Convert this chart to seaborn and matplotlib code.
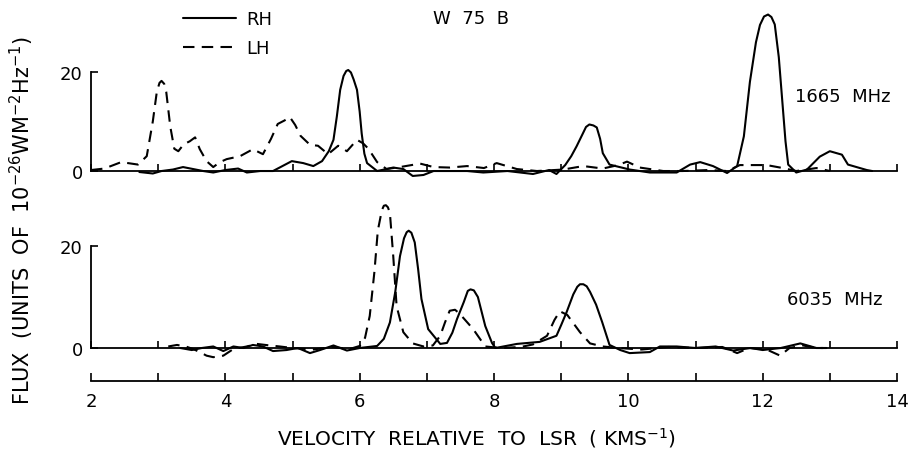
import numpy as np
import pandas as pd
import matplotlib
matplotlib.use("Agg")
import matplotlib.pyplot as plt
import seaborn as sns

# ---- data (velocity km/s, flux 1e-26 W m^-2 Hz^-1) ----
top_lh_v = [2.0, 2.2, 2.45, 2.7, 2.83, 2.92, 2.98, 3.02, 3.05, 3.09, 3.12, 3.18, 3.24, 3.3, 3.38, 3.47,
            3.55, 3.62, 3.72, 3.82, 3.92, 4.02, 4.22, 4.41, 4.56, 4.68, 4.78, 4.88, 4.96, 5.04, 5.12, 5.26,
            5.38, 5.53, 5.68, 5.81, 5.96, 6.05, 6.13, 6.26, 6.4, 6.6, 6.9, 7.1, 7.34, 7.6, 7.85, 8.04,
            8.34, 8.64, 9.03, 9.33, 9.62, 9.85, 9.98, 10.17, 10.52, 10.81, 11.2, 11.47, 11.66, 12.06, 12.3,
            12.5, 12.8, 13.0]
top_lh_f = [0.2, 0.5, 1.8, 1.3, 3, 10, 16, 17.8, 18.2, 17.6, 16, 9, 4.5, 4, 5.4, 6,
            6.8, 4.4, 2, 0.8, 1.8, 2.4, 3, 4.4, 3.4, 6.5, 9.5, 10.2, 10.9, 9.3, 7.1, 5.3,
            5.1, 3.4, 5.1, 4, 6.3, 5.6, 4.5, 1.8, 0.4, 0.8, 1.5, 0.8, 0.7, 1, 0.6, 1.6,
            0.4, 0, 0.3, 1, 0.5, 1.2, 1.9, 0.7, 0, 0, 0.2, 0, 1.2, 1.2, 0.6,
            0, 0.6, 0]

top_rh_v = [2.72, 2.92, 3.05, 3.22, 3.37, 3.52, 3.67, 3.82, 4.0, 4.19, 4.32, 4.52, 4.71, 4.85, 4.99, 5.16,
            5.31, 5.44, 5.54, 5.61, 5.66, 5.71, 5.76, 5.8, 5.83, 5.87, 5.91, 5.96, 6.0, 6.03, 6.07, 6.11,
            6.26, 6.5, 6.65, 6.79, 6.95, 7.1, 7.34, 7.6, 7.84, 8.2, 8.58, 8.82, 8.93, 9.06, 9.15, 9.23,
            9.32, 9.37, 9.42, 9.48, 9.53, 9.58, 9.62, 9.72, 10.02, 10.32, 10.72, 10.92, 11.07, 11.26, 11.47,
            11.62, 11.72, 11.81, 11.9, 11.96, 12.02, 12.08, 12.13, 12.18, 12.24, 12.29, 12.34, 12.38, 12.5,
            12.66, 12.85, 13.0, 13.18, 13.27, 13.55, 13.63]
top_rh_f = [-0.2, -0.5, 0, 0.3, 0.8, 0.4, 0, -0.3, 0.2, 0.5, -0.3, 0, 0, 1, 2, 1.6,
            1, 2, 4, 6.3, 11, 16.4, 19.2, 20.2, 20.4, 19.9, 18.5, 16.4, 12, 7.6, 3.5, 1.6,
            0, 0.7, 0.4, -1, -0.8, 0, 0, 0, -0.3, 0, -0.6, 0.2, -0.6, 1.2, 3, 5,
            7.5, 8.9, 9.4, 9.2, 8.8, 6.5, 3.6, 1.3, 0.3, -0.3, -0.3, 1.3, 1.8, 1, -0.4,
            1, 7, 18, 26, 29.5, 31.2, 31.6, 31.1, 29.6, 23, 14.5, 6, 1.3, -0.3,
            0.3, 2.9, 4, 3.3, 1.3, 0.2, 0]

bot_lh_v = [3.15, 3.28, 3.41, 3.52, 3.62, 3.72, 3.82, 3.97, 4.12, 4.32, 4.47, 4.66, 4.81, 5.0, 5.3, 5.6,
            5.85, 6.0, 6.08, 6.15, 6.22, 6.27, 6.33, 6.36, 6.39, 6.42, 6.45, 6.5, 6.55, 6.65, 6.79, 6.95,
            7.09, 7.2, 7.27, 7.34, 7.42, 7.49, 7.69, 7.87, 8.1, 8.4, 8.58, 8.79, 8.9, 8.98, 9.09, 9.28,
            9.43, 9.62, 9.85, 10.2, 10.6, 11.0, 11.4, 11.62, 11.8, 12.06, 12.26, 12.4, 12.6, 12.8, 12.9]
bot_lh_f = [0.3, 0.6, 0.3, -0.2, -0.8, -1.5, -1.8, -1.5, -0.2, 0.3, 0.8, 0.5, 0.3, 0, -0.3, 0.2,
            -0.2, 0.4, 2, 6.3, 15, 23, 27, 27.9, 28, 27.6, 26.5, 18, 8.2, 3.1, 0.9, 0.3,
            0.5, 2.4, 5, 7.3, 7.5, 6.7, 3.7, 0.3, 0, 0.2, 0.7, 2.4, 5.5, 7.2, 6.5, 3.1,
            0.9, 0.3, 0, -0.3, 0.2, 0, 0.2, -1, 0, -0.3, -1.5, 0, 0.5, 0, 0]

bot_rh_v = [3.33, 3.5, 3.65, 3.82, 3.97, 4.12, 4.27, 4.41, 4.56, 4.71, 4.91, 5.08, 5.26, 5.41, 5.61, 5.81,
            6.0, 6.26, 6.36, 6.45, 6.53, 6.6, 6.66, 6.7, 6.73, 6.77, 6.82, 6.87, 6.92, 7.02, 7.2, 7.3,
            7.38, 7.45, 7.55, 7.61, 7.65, 7.7, 7.76, 7.87, 7.97, 8.02, 8.34, 8.68, 8.93, 9.0, 9.08, 9.18,
            9.24, 9.28, 9.33, 9.38, 9.43, 9.52, 9.61, 9.72, 9.88, 10.02, 10.32, 10.47, 10.72, 11.0, 11.3,
            11.56, 11.82, 12.0, 12.27, 12.56, 12.8, 12.95]
bot_rh_f = [0, -0.4, 0, 0.3, -0.6, 0.3, 0, 0.6, 0.3, -0.6, -0.4, 0, -1, -0.4, 0.5, -0.5,
            0, 0.4, 1.8, 5, 11, 18, 21.5, 22.7, 23, 22.6, 20.7, 15.5, 9.6, 3.7, 0.8, 1,
            3, 5.7, 9, 11.2, 11.5, 11.3, 10, 4.3, 1, 0, 0.8, 1.2, 2.4, 4.5, 7, 10.5,
            12, 12.5, 12.5, 12.1, 11, 8.5, 5.1, 0.6, -0.4, -1, -0.8, 0.3, 0.3, 0, 0.3,
            -0.5, 0, -0.4, 0, 0.9, 0, 0]

x_ticks = list(range(2, 15))
x_ticklabels = [str(t) if t % 2 == 0 else "" for t in x_ticks]
y_ticks = [0, 20]
series_labels = ["RH", "LH"]
panel_labels = ["1665  MHz", "6035  MHz"]

# ---- style ----
sns.set_style("white")
plt.rcParams["font.family"] = ["DejaVu Sans"]
plt.rcParams["font.size"] = 13
plt.rcParams["text.color"] = "black"
plt.rcParams["xtick.color"] = "black"
plt.rcParams["ytick.color"] = "black"
plt.rcParams["lines.solid_joinstyle"] = "round"
plt.rcParams["lines.dash_joinstyle"] = "round"

W, H = 911, 452
fig = plt.figure(figsize=(W / 100, H / 100), dpi=100)

left = 91 / W
width = (897 - 91) / W

def axes_px(top_px, bot_px):
    return [left, 1 - bot_px / H, width, (bot_px - top_px) / H]

ax1 = fig.add_axes(axes_px(8.6, 184.4))
ax2 = fig.add_axes(axes_px(196, 364.3), sharex=ax1)
ax3 = fig.add_axes(axes_px(372, 382), sharex=ax1)

dash = (0, (5.5, 3.5))
lw = 1.5

def draw(ax, v, f, ls):
    df = pd.DataFrame({"v": v, "f": f})
    sns.lineplot(data=df, x="v", y="f", ax=ax, color="black", lw=lw, linestyle=ls,
                 sort=False, estimator=None, legend=False)

draw(ax1, top_rh_v, top_rh_f, "-")
draw(ax1, top_lh_v, top_lh_f, dash)
draw(ax2, bot_rh_v, bot_rh_f, "-")
draw(ax2, bot_lh_v, bot_lh_f, dash)

for ax, ylim in ((ax1, (-2.5, 33)), (ax2, (-3, 30))):
    ax.set_xlim(2, 14)
    ax.set_ylim(*ylim)
    ax.spines["top"].set_visible(False)
    ax.spines["right"].set_visible(False)
    ax.spines["bottom"].set_position(("data", 0))
    ax.spines["left"].set_bounds(0, 20)
    for s in ("bottom", "left"):
        ax.spines[s].set_linewidth(1.3)
        ax.spines[s].set_color("black")
    ax.set_yticks(y_ticks)
    ax.set_xticks(x_ticks)
    ax.tick_params(axis="both", direction="in", length=5, width=1.2, color="black",
                   labelsize=13, pad=6, labelcolor="black")
    ax.tick_params(axis="x", bottom=True, labelbottom=False)
    ax.tick_params(axis="y", left=True)
    ax.set_xlabel("")
    ax.set_ylabel("")
    ax.patch.set_alpha(0)

ax3.set_xlim(2, 14)
ax3.set_ylim(0, 1)
for s in ("top", "right", "left"):
    ax3.spines[s].set_visible(False)
ax3.spines["bottom"].set_linewidth(1.3)
ax3.spines["bottom"].set_color("black")
ax3.set_yticks([])
ax3.set_xticks(x_ticks)
ax3.set_xticklabels(x_ticklabels)
ax3.tick_params(axis="x", bottom=True, direction="in", length=6, width=1.2, color="black",
                labelsize=13, pad=8, labelcolor="black")
ax3.patch.set_alpha(0)

# legend
handles = [plt.Line2D([], [], color="black", lw=lw, linestyle="-"),
           plt.Line2D([], [], color="black", lw=lw, linestyle=dash)]
leg = fig.legend(handles, series_labels, loc="upper left", bbox_to_anchor=(167 / W, 1 + 5 / H),
                 frameon=False, fontsize=13, handlelength=2.9, handletextpad=0.6, labelspacing=0.6)
for t in leg.get_texts():
    t.set_color("black")

fig.text(471 / W, 1 - 19 / H, "W  75  B", ha="center", va="center", fontsize=13, color="black")
fig.text(843 / W, 1 - 97 / H, panel_labels[0], ha="center", va="center", fontsize=13, color="black")
fig.text(835 / W, 1 - 300 / H, panel_labels[1], ha="center", va="center", fontsize=13, color="black")

fig.text(477 / W, 1 - 438 / H, "VELOCITY  RELATIVE  TO  LSR  ( KMS$^{-1}$)",
         ha="center", va="center", fontsize=14.5, color="black")
fig.text(22 / W, 1 - 220 / H, "FLUX  (UNITS  OF  10$^{-26}$WM$^{-2}$Hz$^{-1}$)",
         ha="center", va="center", rotation=90, fontsize=15, color="black")

fig.savefig("out.png", dpi=100)
